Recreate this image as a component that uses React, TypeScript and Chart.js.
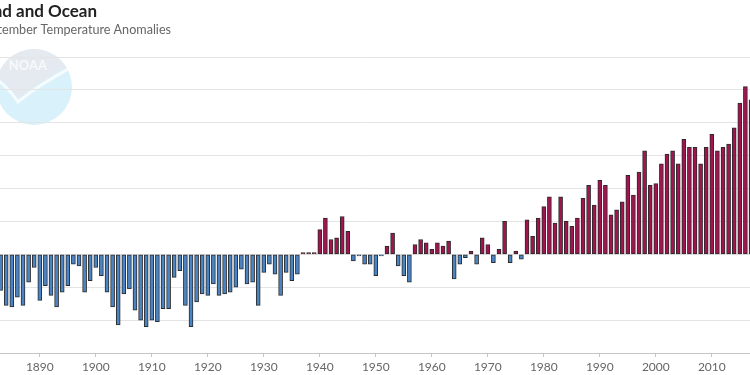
import React, { useEffect, useRef } from 'react';
import { Chart, registerables } from 'chart.js';

Chart.register(...registerables);

// ---- Data ----
const START_YEAR = 1880;
const END_YEAR = 2017;

const anomalies: number[] = [
  // 1880-1889
  -0.10, -0.12, -0.15, -0.22, -0.31, -0.32, -0.26, -0.31, -0.17, -0.08,
  // 1890-1899
  -0.28, -0.19, -0.25, -0.32, -0.23, -0.19, -0.06, -0.07, -0.23, -0.16,
  // 1900-1909
  -0.08, -0.13, -0.23, -0.32, -0.43, -0.24, -0.21, -0.34, -0.40, -0.44,
  // 1910-1919
  -0.40, -0.41, -0.33, -0.33, -0.14, -0.10, -0.31, -0.44, -0.29, -0.24,
  // 1920-1929
  -0.25, -0.18, -0.25, -0.24, -0.23, -0.20, -0.09, -0.18, -0.17, -0.31,
  // 1930-1939
  -0.11, -0.06, -0.12, -0.25, -0.11, -0.16, -0.12, 0.01, 0.01, 0.01,
  // 1940-1949
  0.15, 0.22, 0.09, 0.10, 0.23, 0.14, -0.04, -0.01, -0.06, -0.06,
  // 1950-1959
  -0.13, -0.01, 0.05, 0.13, -0.07, -0.13, -0.17, 0.06, 0.09, 0.07,
  // 1960-1969
  0.03, 0.07, 0.05, 0.08, -0.15, -0.06, -0.02, 0.02, -0.06, 0.10,
  // 1970-1979
  0.06, -0.05, 0.03, 0.20, -0.05, 0.02, -0.03, 0.21, 0.11, 0.22,
  // 1980-1989
  0.29, 0.35, 0.19, 0.35, 0.20, 0.17, 0.22, 0.34, 0.42, 0.30,
  // 1990-1999
  0.45, 0.42, 0.24, 0.27, 0.32, 0.48, 0.36, 0.50, 0.63, 0.42,
  // 2000-2009
  0.43, 0.55, 0.61, 0.63, 0.55, 0.70, 0.65, 0.65, 0.55, 0.65,
  // 2010-2017
  0.73, 0.63, 0.65, 0.67, 0.77, 0.92, 1.02, 0.94,
];

const years: string[] = [];
for (let y = START_YEAR; y <= END_YEAR; y++) years.push(String(y));

const TITLE = 'Global Land and Ocean';
const SUBTITLE = 'September Temperature Anomalies';

const Y_MIN = -0.6;
const Y_MAX = 1.2;
const Y_STEP = 0.2;

// ---- Styling ----
const POS_COLOR = '#a1144f';
const NEG_COLOR = '#4a84c4';
const BAR_BORDER = '#2b2b2b';
const FONT = 'Lato, "Open Sans", "DejaVu Sans", sans-serif';

const CANVAS_SHIFT = 69; // canvas starts this far left of the visible page
const CANVAS_W = 823;
const CANVAS_H = 375;

const headerPlugin = {
  id: 'header',
  beforeDraw(chart: any) {
    const ctx = chart.ctx as CanvasRenderingContext2D;
    ctx.save();
    // NOAA-like watermark logo
    const cx = CANVAS_SHIFT + 34;
    const cy = 87;
    const r = 38;
    ctx.beginPath();
    ctx.arc(cx, cy, r, 0, Math.PI * 2);
    ctx.closePath();
    ctx.fillStyle = '#d8f1fa';
    ctx.fill();
    ctx.save();
    ctx.beginPath();
    ctx.arc(cx, cy, r, 0, Math.PI * 2);
    ctx.clip();
    // upper region
    ctx.beginPath();
    ctx.moveTo(cx - r - 2, cy - r - 2);
    ctx.lineTo(cx + r + 2, cy - r - 2);
    ctx.lineTo(cx + r + 2, cy - 24);
    ctx.quadraticCurveTo(cx + 6, cy - 6, cx - 16, cy + 12);
    ctx.quadraticCurveTo(cx - 26, cy - 4, cx - r - 2, cy - 12);
    ctx.closePath();
    ctx.fillStyle = '#e5eaf0';
    ctx.fill();
    // white swoosh
    ctx.beginPath();
    ctx.moveTo(cx - r - 2, cy - 10);
    ctx.quadraticCurveTo(cx - 24, cy + 2, cx - 16, cy + 15);
    ctx.quadraticCurveTo(cx + 6, cy - 3, cx + r + 2, cy - 21);
    ctx.lineWidth = 3;
    ctx.strokeStyle = '#f6fbfd';
    ctx.stroke();
    ctx.restore();
    ctx.fillStyle = '#f7f9fb';
    ctx.font = `bold 13px ${FONT}`;
    ctx.textAlign = 'center';
    ctx.textBaseline = 'middle';
    ctx.fillText('NOAA', cx - 6, cy - 21);

    // Title and subtitle (right-aligned so the visible crop matches)
    ctx.textAlign = 'right';
    ctx.textBaseline = 'alphabetic';
    ctx.fillStyle = '#222222';
    ctx.font = `bold 17px ${FONT}`;
    ctx.fillText(TITLE, CANVAS_SHIFT + 97, 17);
    ctx.fillStyle = '#666666';
    ctx.font = `12.6px ${FONT}`;
    ctx.fillText(SUBTITLE, CANVAS_SHIFT + 171, 34);
    ctx.restore();
  },
};

export default function App() {
  const canvasRef = useRef<HTMLCanvasElement | null>(null);

  useEffect(() => {
    if (!canvasRef.current) return;
    const chart = new Chart(canvasRef.current, {
      type: 'bar',
      data: {
        labels: years,
        datasets: [
          {
            label: 'Anomaly',
            data: anomalies,
            backgroundColor: (c: any) => ((c.raw ?? 0) >= 0 ? POS_COLOR : NEG_COLOR),
            borderColor: BAR_BORDER,
            borderWidth: 1,
            borderSkipped: false,
            barThickness: 4,
          },
        ],
      },
      options: {
        responsive: false,
        devicePixelRatio: 1,
        animation: false,
        layout: { padding: { top: 57, left: 0, right: 0, bottom: 0 } },
        plugins: {
          legend: { display: false },
          title: { display: false },
          tooltip: { enabled: false },
        },
        scales: {
          x: {
            afterFit: (s: any) => {
              s.height = 22;
            },
            grid: {
              display: true,
              drawOnChartArea: false,
              drawTicks: true,
              tickLength: 4,
              offset: false,
              color: (c: any) =>
                (START_YEAR + c.index) % 10 === 0 ? '#c4c4c4' : 'rgba(0,0,0,0)',
            },
            border: { display: true, color: '#c4c4c4' },
            ticks: {
              autoSkip: false,
              maxRotation: 0,
              minRotation: 0,
              padding: 3,
              color: '#666666',
              font: { family: FONT, size: 12 },
              callback: (_v: any, i: number) => {
                const y = START_YEAR + i;
                return y % 10 === 0 ? String(y) : '';
              },
            },
          },
          y: {
            min: Y_MIN,
            max: Y_MAX,
            afterFit: (s: any) => {
              s.width = 50;
            },
            grid: { color: '#e4e4e4', drawTicks: false },
            border: { display: false },
            ticks: {
              stepSize: Y_STEP,
              color: '#666666',
              font: { family: FONT, size: 12 },
            },
          },
        },
      },
      plugins: [headerPlugin],
    });
    return () => chart.destroy();
  }, []);

  return (
    <div
      style={{
        position: 'fixed',
        left: 0,
        top: 0,
        width: 750,
        height: 375,
        overflow: 'hidden',
        background: '#ffffff',
      }}
    >
      <div style={{ position: 'absolute', left: -CANVAS_SHIFT, top: 0, width: CANVAS_W, height: CANVAS_H }}>
        <canvas
          ref={canvasRef}
          width={CANVAS_W}
          height={CANVAS_H}
          style={{ display: 'block', width: CANVAS_W, height: CANVAS_H }}
        />
      </div>
    </div>
  );
}
